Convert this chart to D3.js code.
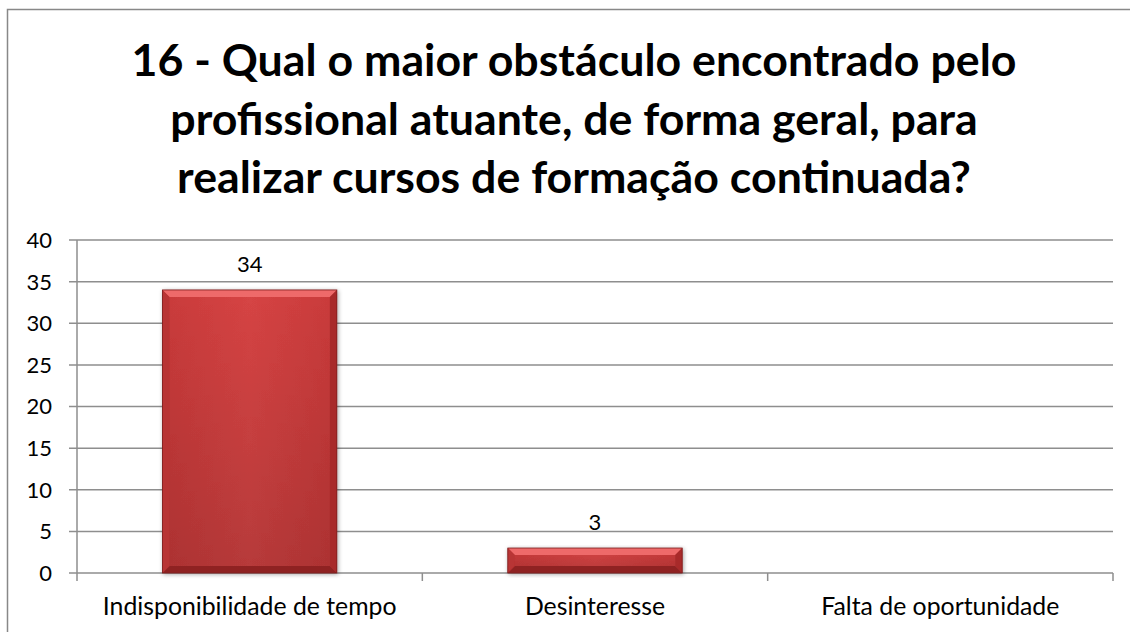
<!DOCTYPE html>
<html>
<head>
  <meta charset="utf-8">
  <script src="https://d3js.org/d3.v7.min.js"></script>
  <style>
    body { margin: 0; background: #fff; }
    text { font-family: Lato, "Liberation Sans", sans-serif; fill: #000; }
    .title { font-weight: bold; font-size: 44.7px; }
    .tick-label, .value-label { font-size: 22px; }
    .cat-label { font-size: 24.8px; }
  </style>
</head>
<body>
<svg width="1130" height="632"></svg>
<script>
const titleLines = [
  "16 - Qual o maior obstáculo encontrado pelo",
  "profissional atuante, de forma geral, para",
  "realizar cursos de formação continuada?"
];
const categories = ["Indisponibilidade de tempo", "Desinteresse", "Falta de oportunidade"];
const values = [34, 3, 0];
const yTicks = [0, 5, 10, 15, 20, 25, 30, 35, 40];

const svg = d3.select("svg");
const plot = { left: 77, right: 1113, top: 240, bottom: 573 };

// chart frame, runs off the right and bottom like the source
svg.append("rect")
  .attr("x", 7.5).attr("y", 9.5)
  .attr("width", 1140).attr("height", 640)
  .attr("fill", "#fff").attr("stroke", "#888").attr("stroke-width", 1.5);

svg.selectAll(".title")
  .data(titleLines)
  .enter().append("text")
  .attr("class", "title")
  .attr("x", 574)
  .attr("y", (d, i) => 76 + i * 58.5)
  .attr("text-anchor", "middle")
  .text(d => d);

const x = d3.scaleBand().domain(categories).range([plot.left, plot.right]).paddingInner(0).paddingOuter(0);
const y = d3.scaleLinear().domain([0, 40]).range([plot.bottom, plot.top]);

// gridlines
svg.append("g")
  .selectAll("line")
  .data(yTicks)
  .enter().append("line")
  .attr("x1", plot.left - 8).attr("x2", plot.right)
  .attr("y1", d => y(d)).attr("y2", d => y(d))
  .attr("stroke", "#8e8e8e").attr("stroke-width", 1.5);

// y axis line
svg.append("line")
  .attr("x1", plot.left).attr("x2", plot.left)
  .attr("y1", plot.top).attr("y2", plot.bottom + 8)
  .attr("stroke", "#8e8e8e").attr("stroke-width", 1.5);

// category tick marks
svg.append("g")
  .selectAll("line")
  .data(categories)
  .enter().append("line")
  .attr("x1", d => x(d) + x.bandwidth()).attr("x2", d => x(d) + x.bandwidth())
  .attr("y1", plot.bottom).attr("y2", plot.bottom + 8)
  .attr("stroke", "#8e8e8e").attr("stroke-width", 1.5);

svg.append("g")
  .selectAll("text")
  .data(yTicks)
  .enter().append("text")
  .attr("class", "tick-label")
  .attr("x", 52)
  .attr("y", d => y(d))
  .attr("dy", "0.36em")
  .attr("text-anchor", "end")
  .text(d => d);

svg.append("g")
  .selectAll("text")
  .data(categories)
  .enter().append("text")
  .attr("class", "cat-label")
  .attr("x", d => x(d) + x.bandwidth() / 2)
  .attr("y", 615)
  .attr("text-anchor", "middle")
  .text(d => d);

// bar fills
const defs = svg.append("defs");
const g1 = defs.append("linearGradient").attr("id", "barFill").attr("x1", 0).attr("y1", 0).attr("x2", 1).attr("y2", 0);
g1.append("stop").attr("offset", "0%").attr("stop-color", "#c93a3a");
g1.append("stop").attr("offset", "50%").attr("stop-color", "#d64444");
g1.append("stop").attr("offset", "100%").attr("stop-color", "#c93a3a");
const g2 = defs.append("linearGradient").attr("id", "barShade").attr("x1", 0).attr("y1", 0).attr("x2", 0).attr("y2", 1);
g2.append("stop").attr("offset", "0%").attr("stop-color", "#000").attr("stop-opacity", 0);
g2.append("stop").attr("offset", "100%").attr("stop-color", "#000").attr("stop-opacity", 0.15);
const sh = defs.append("filter").attr("id", "shadow").attr("x", "-10%").attr("y", "-10%").attr("width", "130%").attr("height", "130%");
sh.append("feDropShadow").attr("dx", 1).attr("dy", 1).attr("stdDeviation", 2).attr("flood-opacity", 0.35);

const barData = categories.map((c, i) => ({ c, v: values[i] })).filter(d => d.v > 0);
const barW = x.bandwidth() * 0.505;
const bev = 7;
const bars = svg.append("g")
  .selectAll("g")
  .data(barData)
  .enter().append("g")
  .attr("filter", "url(#shadow)");

bars.each(function(d) {
  const g = d3.select(this);
  const x0 = x(d.c) + (x.bandwidth() - barW) / 2, x1 = x0 + barW;
  const y0 = y(d.v), y1 = y(0);
  const b = Math.min(bev, (y1 - y0) / 2);
  g.append("rect").attr("x", x0).attr("y", y0).attr("width", barW).attr("height", y1 - y0).attr("fill", "url(#barFill)");
  g.append("rect").attr("x", x0).attr("y", y0).attr("width", barW).attr("height", y1 - y0).attr("fill", "url(#barShade)");
  // bevel edges
  g.append("polygon").attr("points", [[x0, y0], [x1, y0], [x1 - b, y0 + b], [x0 + b, y0 + b]].join(" ")).attr("fill", "#ee6a6a");
  g.append("polygon").attr("points", [[x0, y1], [x1, y1], [x1 - b, y1 - b], [x0 + b, y1 - b]].join(" ")).attr("fill", "#8f2424");
  g.append("polygon").attr("points", [[x0, y0], [x0 + b, y0 + b], [x0 + b, y1 - b], [x0, y1]].join(" ")).attr("fill", "#b83434");
  g.append("polygon").attr("points", [[x1, y0], [x1 - b, y0 + b], [x1 - b, y1 - b], [x1, y1]].join(" ")).attr("fill", "#a82c2c");
  g.append("rect").attr("x", x0).attr("y", y0).attr("width", barW).attr("height", y1 - y0)
    .attr("fill", "none").attr("stroke", "#7a1c1c").attr("stroke-width", 0.8);
});

svg.append("g")
  .selectAll("text")
  .data(barData)
  .enter().append("text")
  .attr("class", "value-label")
  .attr("x", d => x(d.c) + x.bandwidth() / 2)
  .attr("y", d => y(d.v) - 18)
  .attr("text-anchor", "middle")
  .text(d => d.v);
</script>
</body>
</html>
